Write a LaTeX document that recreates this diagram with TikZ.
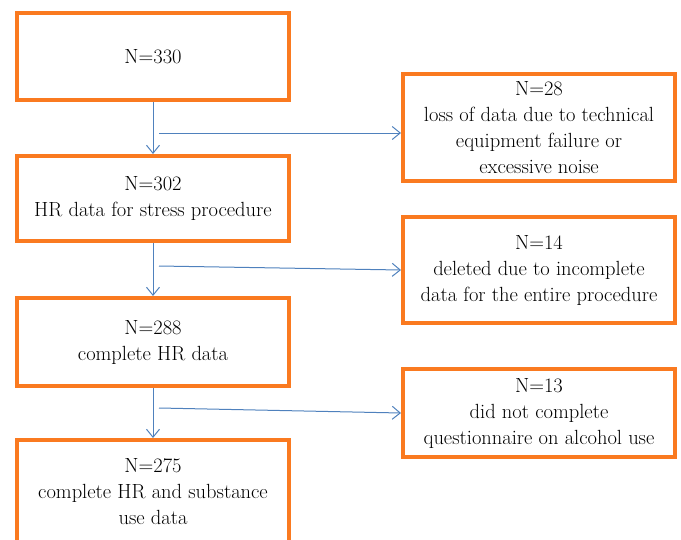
\documentclass[tikz,border=0pt]{standalone}
\usepackage{tikz}
\usetikzlibrary{arrows.meta}
\definecolor{boxorange}{RGB}{250,122,32}
\definecolor{arrowblue}{RGB}{79,129,189}

\begin{document}
\begin{tikzpicture}[x=1pt,y=-1pt,
    box/.style={draw=boxorange,line width=4pt,fill=white,minimum width=272pt,align=center,
        font=\fontsize{20.5}{26}\selectfont},
    flow/.style={draw=arrowblue,line width=1pt,-{Straight Barb[length=8pt,width=13pt]}}]
        \clip(0,0)rectangle(681,539);
        % main column
        \node[box,minimum height=87pt](n330)at(153,56.5){N=330};
        \node[box,minimum height=85pt](n302)at(153,198.5){N=302\\HR data for stress procedure};
        \node[box,minimum height=88pt](n288)at(153,342){N=288\\complete HR data};
        \node[box,minimum height=104pt](n275)at(153,492){N=275\\complete HR and substance\\use data};
        % excluded
        \node[box,minimum height=107pt](x28)at(539,127.5){N=28\\loss of data due to technical\\equipment failure or\\excessive noise};
        \node[box,minimum height=106pt](x14)at(539,270){N=14\\deleted due to incomplete\\data for the entire procedure};
        \node[box,minimum height=88pt](x13)at(539,413){N=13\\did not complete\\questionnaire on alcohol use};
        \draw[flow](n330)--(n302);
        \draw[flow](n302)--(n288);
        \draw[flow](n288)--(n275);
        \coordinate(s1)at(159,133);
        \coordinate(s2)at(159,266);
        \coordinate(s3)at(159,408);
        \draw[flow](s1)--(s1-|x28.west);
        \draw[flow](s2)--(x14.west);
        \draw[flow](s3)--(x13.west);
\end{tikzpicture}
\end{document}
